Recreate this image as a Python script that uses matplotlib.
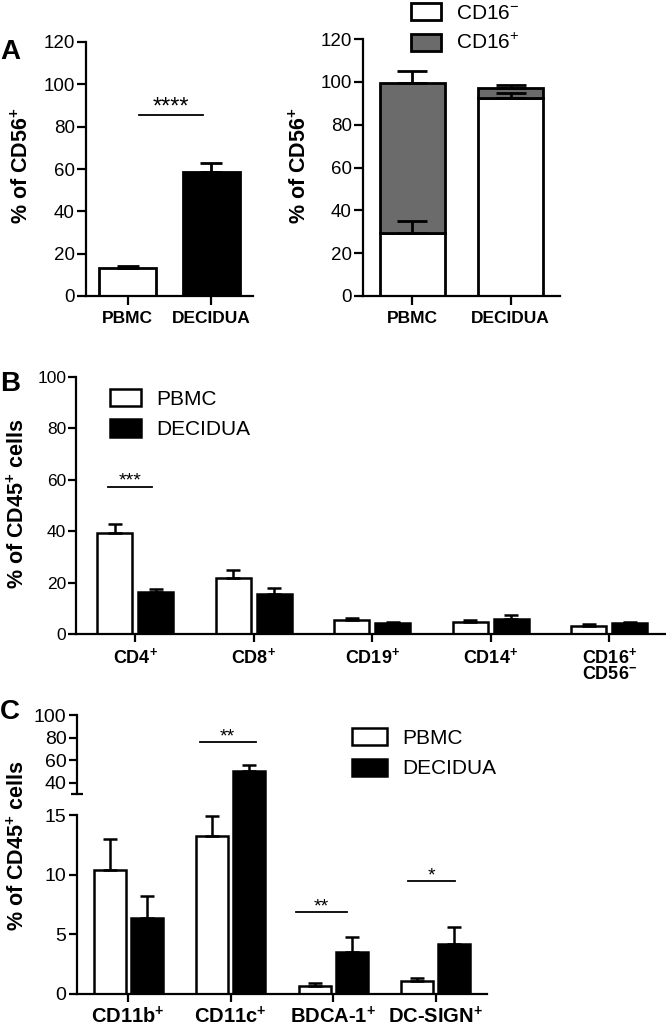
import numpy as np
import matplotlib
matplotlib.use('Agg')
import matplotlib.pyplot as plt

plt.rcParams['font.family'] = ['Liberation Sans', 'DejaVu Sans']
plt.rcParams['mathtext.fontset'] = 'custom'
plt.rcParams['mathtext.rm'] = 'Liberation Sans'
plt.rcParams['mathtext.it'] = 'Liberation Sans:italic'
plt.rcParams['mathtext.bf'] = 'Liberation Sans:bold'

# ---------------- data ----------------
a_groups = ['PBMC', 'DECIDUA']
a_cd56_mean = [13.1, 58.4]
a_cd56_sem = [1.2, 4.3]
a_cd16neg_mean = [29.2, 92.3]
a_cd16neg_sem = [5.7, 2.6]
a_cd16pos_mean = [70.4, 4.9]
a_cd16pos_sem = [5.6, 1.3]
a_legend = ['CD16$^{-}$', 'CD16$^{+}$']

b_cats = ['CD4$^{\\mathbf{+}}$', 'CD8$^{\\mathbf{+}}$', 'CD19$^{\\mathbf{+}}$',
          'CD14$^{\\mathbf{+}}$', 'CD16$^{\\mathbf{+}}$\nCD56$^{\\mathbf{-}}$']
b_pbmc_mean = [39.2, 21.7, 5.6, 4.7, 3.2]
b_pbmc_sem = [3.7, 3.1, 0.7, 0.6, 0.7]
b_dec_mean = [16.2, 15.4, 4.3, 6.0, 4.2]
b_dec_sem = [1.3, 2.4, 0.4, 1.5, 0.6]

c_cats = ['CD11b$^{\\mathbf{+}}$', 'CD11c$^{\\mathbf{+}}$',
          'BDCA-1$^{\\mathbf{+}}$', 'DC-SIGN$^{\\mathbf{+}}$']
c_pbmc_mean = [10.4, 13.2, 0.67, 1.12]
c_pbmc_sem = [2.6, 1.7, 0.23, 0.22]
c_dec_mean = [6.4, 50.0, 3.5, 4.2]
c_dec_sem = [1.8, 6.0, 1.25, 1.4]

series_names = ['PBMC', 'DECIDUA']

# ---------------- figure ----------------
W, H = 666, 1034
fig = plt.figure(figsize=(W / 100, H / 100), dpi=100)


def add_ax(x0, y0, x1, y1):
    return fig.add_axes([x0 / W, 1 - y1 / H, (x1 - x0) / W, (y1 - y0) / H])


def style(ax, ylab_size, xlab_size, tlen=6, xpad=3, ypad=1.5):
    ax.spines[['top', 'right']].set_visible(False)
    ax.spines[['left', 'bottom']].set_linewidth(1.6)
    ax.tick_params(width=1.6, length=tlen, color='black')
    ax.tick_params(axis='y', labelsize=ylab_size, pad=ypad)
    ax.tick_params(axis='x', labelsize=xlab_size, pad=xpad)
    for t in ax.get_xticklabels():
        t.set_fontweight('bold')


def up_err(ax, x, y, e, cap, lw=2):
    ax.errorbar(x, y, yerr=[np.zeros(len(e)), e], fmt='none', ecolor='black',
                elinewidth=lw, capsize=cap, capthick=lw, zorder=3)


# ---- Panel A left ----
axA1 = add_ax(86, 42, 253, 296)
xa = np.arange(len(a_groups))
axA1.bar(xa, a_cd56_mean, width=0.68, color=['white', 'black'], edgecolor='black', linewidth=2, zorder=2)
up_err(axA1, xa, a_cd56_mean, a_cd56_sem, 8)
axA1.set_xlim(-0.5, 1.5)
axA1.set_ylim(0, 120)
axA1.set_yticks(np.arange(0, 121, 20))
axA1.set_xticks(xa)
axA1.set_xticklabels(a_groups)
style(axA1, 13.5, 12.5, tlen=6.5, xpad=4.5)
axA1.plot([0.13, 0.9], [85.5, 85.5], color='black', lw=1.3)
axA1.text(0.515, 86.3, '****', ha='center', va='baseline', fontsize=17)

# ---- Panel A right ----
axA2 = add_ax(363, 39, 560, 296)
axA2.bar(xa, a_cd16neg_mean, width=0.66, color='white', edgecolor='black', linewidth=2,
         label=a_legend[0], zorder=2)
axA2.bar(xa, a_cd16pos_mean, bottom=a_cd16neg_mean, width=0.66, color='#6b6b6b',
         edgecolor='black', linewidth=2, label=a_legend[1], zorder=2)
up_err(axA2, xa, a_cd16neg_mean, a_cd16neg_sem, 10.5)
up_err(axA2, xa, np.add(a_cd16neg_mean, a_cd16pos_mean), a_cd16pos_sem, 10.5)
axA2.set_xlim(-0.5, 1.5)
axA2.set_ylim(0, 120)
axA2.set_yticks(np.arange(0, 121, 20))
axA2.set_xticks(xa)
axA2.set_xticklabels(a_groups)
style(axA2, 13.5, 12.5, tlen=6.5, xpad=4.5)
axA2.legend(loc='upper left', bbox_to_anchor=(411 / W, 1 - 3 / H), bbox_transform=fig.transFigure,
            frameon=False, fontsize=15, borderpad=0, borderaxespad=0,
            handlelength=1.45, handleheight=0.9, handletextpad=0.7, labelspacing=0.5)

fig.text(0 / W, 1 - 52 / H, 'A', fontsize=20, fontweight='bold', ha='left', va='center')
fig.text(22 / W, 1 - 166 / H, '% of CD56$^{\\mathbf{+}}$', rotation=90, fontsize=15.5,
         fontweight='bold', ha='center', va='center')
fig.text(300 / W, 1 - 166 / H, '% of CD56$^{\\mathbf{+}}$', rotation=90, fontsize=15.5,
         fontweight='bold', ha='center', va='center')

# ---- Panel B ----
axB = add_ax(76, 377, 666, 634)
xb = np.arange(len(b_cats))
axB.bar(xb - 0.173, b_pbmc_mean, 0.295, color='white', edgecolor='black', linewidth=1.8,
        label=series_names[0], zorder=2)
axB.bar(xb + 0.173, b_dec_mean, 0.295, color='black', edgecolor='black', linewidth=1.8,
        label=series_names[1], zorder=2)
up_err(axB, xb - 0.173, b_pbmc_mean, b_pbmc_sem, 4.8, lw=1.8)
up_err(axB, xb + 0.173, b_dec_mean, b_dec_sem, 4.8, lw=1.8)
axB.set_xlim(-0.5, 4.48)
axB.set_ylim(0, 100)
axB.set_yticks(np.arange(0, 101, 20))
axB.set_xticks(xb)
axB.set_xticklabels(b_cats)
style(axB, 12.5, 13, tlen=5.5, xpad=3.5)
axB.get_xticklabels()[-1].set_linespacing(0.95)
axB.plot([-0.23, 0.14], [57.2, 57.2], color='black', lw=1.3)
axB.text(-0.045, 57.8, '***', ha='center', va='baseline', fontsize=14)
axB.legend(loc='upper left', bbox_to_anchor=(110 / W, 1 - 389 / H), bbox_transform=fig.transFigure,
           frameon=False, fontsize=15, borderpad=0, borderaxespad=0,
           handlelength=1.5, handleheight=0.9, handletextpad=0.7, labelspacing=0.5)
fig.text(0 / W, 1 - 384 / H, 'B', fontsize=20, fontweight='bold', ha='left', va='center')
fig.text(18 / W, 1 - 504 / H, '% of CD45$^{\\mathbf{+}}$ cells', rotation=90, fontsize=15.5,
         fontweight='bold', ha='center', va='center')

# ---- Panel C (broken y axis) ----
axC = add_ax(77, 715, 487, 994)
brk_v = [0, 15, 30, 100]
brk_t = [0, 179, 200, 279]


def fwd(y):
    return np.interp(y, brk_v, brk_t)


def inv(t):
    return np.interp(t, brk_t, brk_v)


axC.set_yscale('function', functions=(fwd, inv))
xc = np.arange(len(c_cats))
axC.bar(xc - 0.18, c_pbmc_mean, 0.31, color='white', edgecolor='black', linewidth=1.8,
        label=series_names[0], zorder=2)
axC.bar(xc + 0.18, c_dec_mean, 0.31, color='black', edgecolor='black', linewidth=1.8,
        label=series_names[1], zorder=2)
up_err(axC, xc - 0.18, c_pbmc_mean, c_pbmc_sem, 4.8, lw=1.8)
up_err(axC, xc + 0.18, c_dec_mean, c_dec_sem, 4.8, lw=1.8)
axC.set_xlim(-0.5, 3.5)
axC.set_ylim(0, 100)
axC.set_yticks([0, 5, 10, 15, 40, 60, 80, 100])
axC.set_yticklabels(['0', '5', '10', '15', '40', '60', '80', '100'])
axC.yaxis.set_minor_locator(matplotlib.ticker.NullLocator())
axC.set_xticks(xc)
axC.set_xticklabels(c_cats)
style(axC, 14, 14.5, tlen=6, xpad=2.5)
axC.spines['left'].set_bounds(0, 15)
ytr = axC.get_yaxis_transform()
axC.plot([0, 0], [30, 100], transform=ytr, color='black', lw=1.6, clip_on=False,
         solid_capstyle='projecting')
axC.plot([0], [30], marker='_', ms=8, mew=1.6, color='black', transform=ytr, clip_on=False)
axC.plot([0.7, 1.245], [75.7, 75.7], color='black', lw=1.3)
axC.text(0.97, 76.5, '**', ha='center', va='baseline', fontsize=14)
axC.plot([1.64, 2.13], [6.87, 6.87], color='black', lw=1.3)
axC.text(1.885, 6.95, '**', ha='center', va='baseline', fontsize=14)
axC.plot([2.73, 3.19], [9.47, 9.47], color='black', lw=1.3)
axC.text(2.96, 9.55, '*', ha='center', va='baseline', fontsize=14)
axC.legend(loc='upper left', bbox_to_anchor=(352 / W, 1 - 728 / H), bbox_transform=fig.transFigure,
           frameon=False, fontsize=15, borderpad=0, borderaxespad=0,
           handlelength=1.7, handleheight=0.85, handletextpad=0.7, labelspacing=0.55)
fig.text(0 / W, 1 - 712 / H, 'C', fontsize=20, fontweight='bold', ha='left', va='center')
fig.text(18 / W, 1 - 846 / H, '% of CD45$^{\\mathbf{+}}$ cells', rotation=90, fontsize=15.5,
         fontweight='bold', ha='center', va='center')

fig.savefig('out.png', dpi=100)
